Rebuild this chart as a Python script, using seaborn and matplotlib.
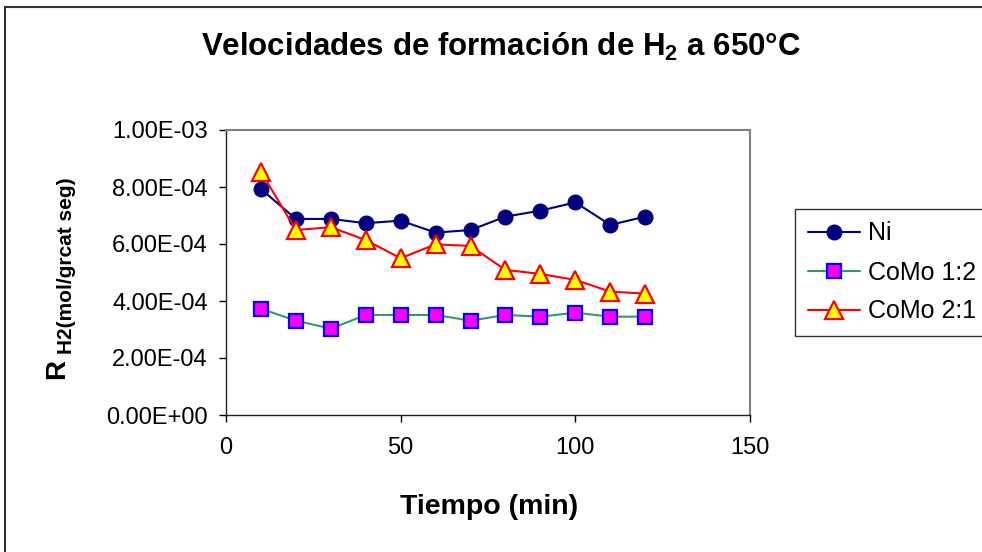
import numpy as np
import pandas as pd
import seaborn as sns
import matplotlib.pyplot as plt
from matplotlib.ticker import FuncFormatter, MultipleLocator
from matplotlib.patches import Rectangle

# Data
tiempo = [10, 20, 30, 40, 50, 60, 70, 80, 90, 100, 110, 120]
ni = [7.93e-4, 6.88e-4, 6.88e-4, 6.73e-4, 6.82e-4, 6.40e-4, 6.49e-4, 6.96e-4, 7.17e-4, 7.46e-4, 6.67e-4, 6.96e-4]
como_12 = [3.73e-4, 3.31e-4, 3.03e-4, 3.51e-4, 3.51e-4, 3.51e-4, 3.31e-4, 3.51e-4, 3.45e-4, 3.59e-4, 3.45e-4, 3.45e-4]
como_21 = [8.54e-4, 6.49e-4, 6.59e-4, 6.14e-4, 5.50e-4, 5.99e-4, 5.93e-4, 5.09e-4, 4.95e-4, 4.74e-4, 4.33e-4, 4.26e-4]
series_names = ["Ni", "CoMo 1:2", "CoMo 2:1"]

sns.set_style("white")
plt.rcParams['font.family'] = ['Liberation Sans', 'DejaVu Sans']
plt.rcParams['mathtext.fontset'] = 'custom'
plt.rcParams['mathtext.rm'] = 'Liberation Sans:bold'
plt.rcParams['mathtext.bf'] = 'Liberation Sans:bold'
for k in ['text.color', 'axes.labelcolor', 'xtick.color', 'ytick.color']:
    plt.rcParams[k] = 'black'

W, H = 982, 552
fig = plt.figure(figsize=(W / 100, H / 100), dpi=100)
ax = fig.add_axes([226 / W, 1 - 415 / H, (750 - 226) / W, (415 - 130) / H])

styles = [
    dict(color="#000080", marker="o", markersize=10.5, markerfacecolor="#000080",
         markeredgecolor="#000080", markeredgewidth=1),
    dict(color="#339966", marker="s", markersize=10, markerfacecolor="#FF00FF",
         markeredgecolor="#0000FF", markeredgewidth=1.6),
    dict(color="#FF0000", marker="^", markersize=12.5, markerfacecolor="#FFFF00",
         markeredgecolor="#FF0000", markeredgewidth=1.6),
]
for name, vals, st in zip(series_names, [ni, como_12, como_21], styles):
    df = pd.DataFrame({"t": tiempo, "r": vals})
    sns.lineplot(data=df, x="t", y="r", ax=ax, label=name, linewidth=1.5, **st)

ax.set_xlim(0, 150)
ax.set_ylim(0, 1e-3)
ax.xaxis.set_major_locator(MultipleLocator(50))
ax.yaxis.set_major_locator(MultipleLocator(2e-4))
ax.yaxis.set_major_formatter(FuncFormatter(lambda v, p: f"{v:.2E}"))
ax.set_xlabel("")
ax.set_ylabel("")
ax.tick_params(axis="both", labelsize=17, direction="out", length=5, width=1)
ax.tick_params(axis="x", pad=11, bottom=True)
ax.tick_params(axis="y", pad=8, left=True)
for s in ["left", "bottom"]:
    ax.spines[s].set_color("#222222")
    ax.spines[s].set_linewidth(1)
for s in ["top", "right"]:
    ax.spines[s].set_color("#808080")
    ax.spines[s].set_linewidth(1.5)

leg = ax.legend(loc="upper left", bbox_to_anchor=(795 / W, 1 - 209 / H), bbox_transform=fig.transFigure,
                borderaxespad=0, fontsize=18, frameon=True, fancybox=False, edgecolor="black",
                handlelength=2.1, handletextpad=0.3, labelspacing=0.6, borderpad=0.5)
leg.get_frame().set_linewidth(1)

# Titles
fig.text(501 / W, 1 - 47 / H, r"Velocidades de formación de H$_{\mathbf{2}}$ a 650°C", ha="center", va="center",
         fontsize=22.5, fontweight="bold")
fig.text(489 / W, 1 - 507 / H, "Tiempo (min)", ha="center", va="center", fontsize=20.5, fontweight="bold")
fig.text(57 / W, 1 - 369 / H, "R", ha="center", va="center", rotation=90, fontsize=20, fontweight="bold")
fig.text(67 / W, 1 - 266 / H, "H2(mol/grcat seg)", ha="center", va="center", rotation=90, fontsize=15,
         fontweight="bold")

# Chart area border
fig.patches.append(Rectangle((5 / W, -0.1), 1.2, 1 - 7 / H + 0.1, transform=fig.transFigure,
                             fill=False, edgecolor="#333333", linewidth=1.5))

fig.savefig("out.png", dpi=100, facecolor="white")
